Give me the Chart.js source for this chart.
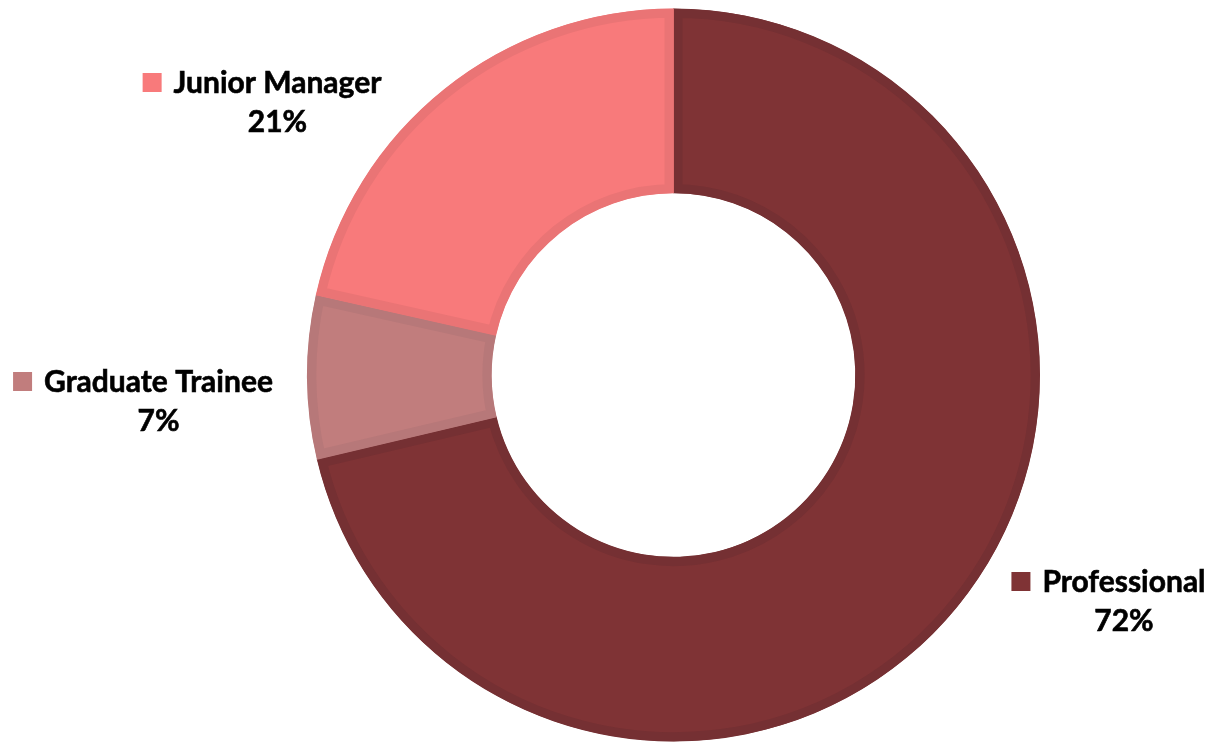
<!DOCTYPE html>
<html>
<head>
<meta charset="utf-8">
<script src="https://cdn.jsdelivr.net/npm/chart.js@4.4.1/dist/chart.umd.min.js"></script>
<style>
html,body{margin:0;padding:0;background:#fff;}
#wrap{width:1210px;height:743px;position:relative;}
</style>
</head>
<body>
<div id="wrap"><canvas id="c" width="1210" height="743"></canvas></div>
<script>
const categories = ["Professional", "Graduate Trainee", "Junior Manager"];
const shares = [71.3, 7.2, 21.5];
const pctLabels = ["72%", "7%", "21%"];

const fillColors = ["#7F3335", "#C17D7D", "#F87A7B"];
const edgeColors = ["#753033", "#B77879", "#EA7475"];
// label anchor: centre x of name text, baseline y of name
const labelAnchors = [[1124, 592], [158.5, 392], [277.5, 93]];

const labelPlugin = {
  id: 'sideLabels',
  afterDatasetsDraw(chart) {
    const ctx = chart.ctx;
    ctx.save();
    ctx.font = 'bold 30px Lato';
    ctx.textBaseline = 'alphabetic';
    ctx.textAlign = 'center';
    ctx.lineWidth = 0.6;
    ctx.strokeStyle = '#000';
    categories.forEach((name, i) => {
      const [cx, by] = labelAnchors[i];
      const w = ctx.measureText(name).width;
      ctx.fillStyle = '#000';
      ctx.fillText(name, cx, by);
      ctx.strokeText(name, cx, by);
      ctx.fillText(pctLabels[i], cx, by + 39);
      ctx.strokeText(pctLabels[i], cx, by + 39);
      const left = cx - w / 2;
      ctx.fillStyle = fillColors[i];
      ctx.fillRect(left - 31, by - 20, 19, 19);
    });
    ctx.restore();
  }
};

new Chart(document.getElementById('c'), {
  type: 'doughnut',
  data: {
    labels: categories,
    datasets: [{
      data: shares,
      backgroundColor: fillColors,
      borderColor: edgeColors,
      borderWidth: 9,
      borderAlign: 'inner',
      hoverOffset: 0
    }]
  },
  options: {
    responsive: false,
    animation: false,
    radius: 366.5,
    cutout: '49.6%',
    layout: { padding: { top: 7, bottom: 0, left: 137, right: 0 } },
    plugins: { legend: { display: false }, tooltip: { enabled: false } }
  },
  plugins: [labelPlugin]
});
</script>
</body>
</html>
